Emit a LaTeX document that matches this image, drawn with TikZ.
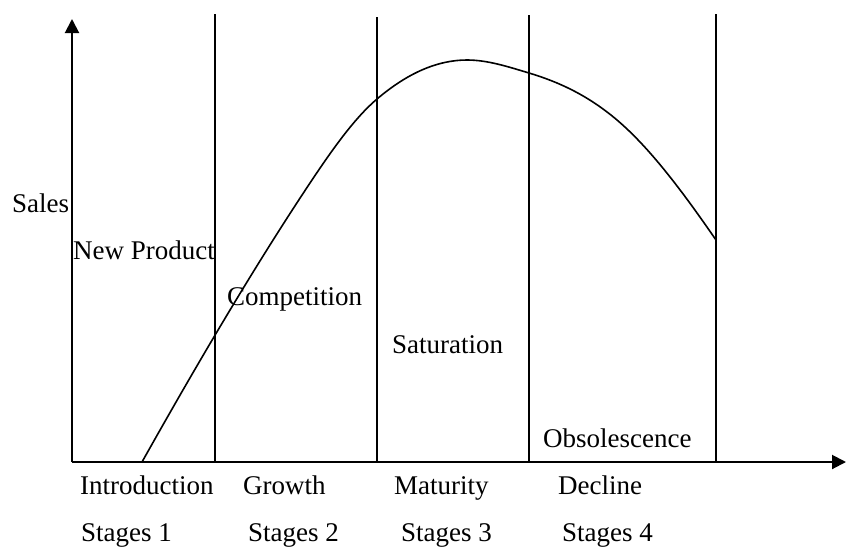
\documentclass[tikz,border=0pt]{standalone}
\usepackage{fontspec}
\setmainfont{Liberation Serif}
\usetikzlibrary{arrows.meta}
\begin{document}
\begin{tikzpicture}[x=1pt,y=-1pt,
  axis/.style={line width=2pt,-{Triangle[width=14pt,length=14pt]}},
  divider/.style={line width=1.8pt},
  curve/.style={line width=1.6pt},
  lbl/.style={anchor=base west,inner sep=0pt,font=\fontsize{27}{31}\selectfont}]
\useasboundingbox (0,0) rectangle (847,547);
\coordinate (O) at (72,462);
\coordinate (ytip) at (72,19);
\coordinate (xtip) at (846,462);
\draw[axis] (O) -- (ytip);
\draw[axis] (O) -- (xtip);
\coordinate (d1t) at (215,14); \coordinate (d1b) at (215,462);
\coordinate (d2t) at (377,17); \coordinate (d2b) at (377,462);
\coordinate (d3t) at (529,15); \coordinate (d3b) at (529,462);
\coordinate (d4t) at (716,14); \coordinate (d4b) at (716,462);
\draw[divider] (d1t) -- (d1b);
\draw[divider] (d2t) -- (d2b);
\draw[divider] (d3t) -- (d3b);
\draw[divider] (d4t) -- (d4b);
\coordinate (cA) at (142,462);
\coordinate (cB) at (312,180);
\coordinate (cC) at (377,99);
\coordinate (cD) at (467,60);
\coordinate (cE) at (529,73);
\coordinate (cF) at (617,120);
\coordinate (cG) at (716,240);
\draw[curve] (cA) .. controls (198.7,361.1) and (255.3,265) .. (cB)
  .. controls (333.7,147.5) and (355.3,117.4) .. (cC)
  .. controls (407,73.5) and (437,60) .. (cD)
  .. controls (487.7,60) and (508.3,66.8) .. (cE)
  .. controls (558.3,81.8) and (587.7,95.1) .. (cF)
  .. controls (650,148) and (683,192.1) .. (cG);
\node[lbl] (sales) at (12,212) {Sales};
\node[lbl] (newp) at (73,259) {New Product};
\node[lbl] (comp) at (227,305) {Competition};
\node[lbl] (satu) at (392,353) {Saturation};
\node[lbl] (obso) at (543,447) {Obsolescence};
\node[lbl] (intro) at (80,494) {Introduction};
\node[lbl] (grow) at (243,494) {Growth};
\node[lbl] (matu) at (394,494) {Maturity};
\node[lbl] (decl) at (558,494) {Decline};
\node[lbl] (s1) at (81,541) {Stages 1};
\node[lbl] (s2) at (248,541) {Stages 2};
\node[lbl] (s3) at (401,541) {Stages 3};
\node[lbl] (s4) at (562,541) {Stages 4};
\end{tikzpicture}
\end{document}
